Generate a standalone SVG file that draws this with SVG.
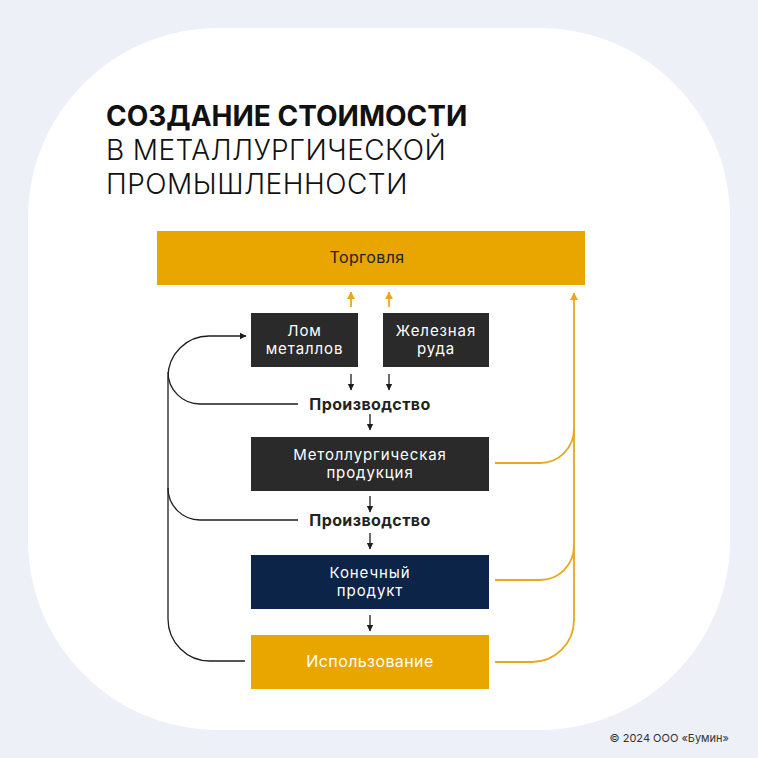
<svg xmlns="http://www.w3.org/2000/svg" width="758" height="758" viewBox="0 0 758 758">
<style>
.t{font-family:Inter,"Open Sans","Liberation Sans",sans-serif;}
.title{font-size:28px;fill:#111;}
.lbl{font-size:15px;text-anchor:middle;letter-spacing:0.9px;}
.one{font-size:16px;text-anchor:middle;letter-spacing:0.4px;}
.w{fill:#fff;}
.d{fill:#222;}
.blk{fill:none;stroke:#1e1e1e;stroke-width:1.3;}
.org{fill:none;stroke:#E9A71B;stroke-width:1.8;}
</style>
<defs>
<marker id="ab" markerWidth="8" markerHeight="8" refX="6" refY="4" orient="auto" markerUnits="userSpaceOnUse">
<path d="M0,0.8 L6.5,4 L0,7.2 Z" fill="#1e1e1e"/>
</marker>
<marker id="ao" markerWidth="10" markerHeight="10" refX="7" refY="5" orient="auto" markerUnits="userSpaceOnUse">
<path d="M0,1 L7.5,5 L0,9 Z" fill="#E9A71B"/>
</marker>
</defs>
<rect width="758" height="758" fill="#EDF0F7"/>
<rect x="28" y="28" width="702" height="702" rx="190" fill="#fff"/>
<g id="title" class="t">
<text class="title" x="106" y="126" font-weight="700">СОЗДАНИЕ СТОИМОСТИ</text>
<text class="title" x="106" y="160" font-weight="300" letter-spacing="0.4">В МЕТАЛЛУРГИЧЕСКОЙ</text>
<text class="title" x="106" y="194" font-weight="300" letter-spacing="0.5">ПРОМЫШЛЕННОСТИ</text>
</g>
<g id="connectors">
<path class="blk" d="M245,661 H210 A42,42 0 0 1 168,619 V377 A41,41 0 0 1 209,336 H246" marker-end="url(#ab)"/>
<path class="blk" d="M298,404 H200 A32,32 0 0 1 168,372"/>
<path class="blk" d="M298,520 H200 A32,32 0 0 1 168,488"/>
<path class="org" d="M495,662 H532 A42,42 0 0 0 574,620 V293" marker-end="url(#ao)"/>
<path class="org" d="M495,463 H540 A34,34 0 0 0 574,429"/>
<path class="org" d="M495,580 H540 A34,34 0 0 0 574,546"/>
<path class="org" d="M351,307 V292" marker-end="url(#ao)"/>
<path class="org" d="M389,307 V292" marker-end="url(#ao)"/>
<path class="blk" d="M351,374 V390" marker-end="url(#ab)"/>
<path class="blk" d="M389,374 V390" marker-end="url(#ab)"/>
<path class="blk" d="M370,414 V430" marker-end="url(#ab)"/>
<path class="blk" d="M370,496 V512" marker-end="url(#ab)"/>
<path class="blk" d="M370,533 V549" marker-end="url(#ab)"/>
<path class="blk" d="M370,615 V631" marker-end="url(#ab)"/>
</g>
<g id="trade">
<rect x="157" y="231" width="428" height="54" fill="#E9A500"/>
<text class="t one d" x="367" y="263">Торговля</text>
</g>
<g id="scrap">
<rect x="251" y="313" width="107" height="54" fill="#2A2A2A"/>
<text class="t lbl w" x="304.5" y="335.5">Лом</text>
<text class="t lbl w" x="304.5" y="354">металлов</text>
</g>
<g id="ore">
<rect x="383" y="313" width="106" height="54" fill="#2A2A2A"/>
<text class="t lbl w" x="436" y="335.5">Железная</text>
<text class="t lbl w" x="436" y="354">руда</text>
</g>
<g id="prod1">
<text class="t one d" x="370" y="410" font-weight="700">Производство</text>
</g>
<g id="metal">
<rect x="251" y="437" width="238" height="54" fill="#2A2A2A"/>
<text class="t lbl w" x="370" y="459.5">Метоллургическая</text>
<text class="t lbl w" x="370" y="478">продукция</text>
</g>
<g id="prod2">
<text class="t one d" x="370" y="526" font-weight="700">Производство</text>
</g>
<g id="final">
<rect x="251" y="555" width="238" height="54" fill="#0C2447"/>
<text class="t lbl w" x="370" y="577.5">Конечный</text>
<text class="t lbl w" x="370" y="596">продукт</text>
</g>
<g id="use">
<rect x="251" y="635" width="238" height="54" fill="#E9A500"/>
<text class="t one w" x="370" y="667">Использование</text>
</g>
<text class="t" x="729" y="742" font-size="11" fill="#333" text-anchor="end">© 2024 ООО «Бумин»</text>
</svg>
